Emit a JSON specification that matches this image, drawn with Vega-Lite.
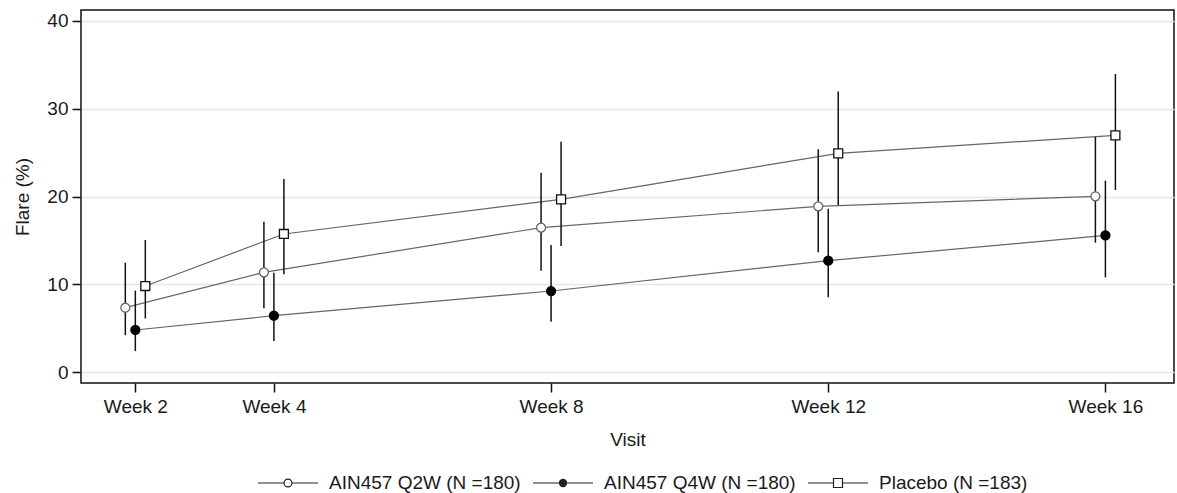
{
  "$schema": "https://vega.github.io/schema/vega-lite/v6.json",
  "width": 1093,
  "height": 373,
  "autosize": "none",
  "padding": {"left": 81, "top": 10, "right": 3, "bottom": 110},
  "background": "white",
  "config": {
    "view": {"stroke": "#111", "strokeWidth": 1.5},
    "font": "Liberation Sans",
    "axis": {
      "labelFont": "Liberation Sans",
      "titleFont": "Liberation Sans",
      "labelFontSize": 19,
      "titleFontSize": 19,
      "titleFontWeight": "normal",
      "labelColor": "#1a1a1a",
      "titleColor": "#1a1a1a",
      "tickColor": "#111",
      "tickWidth": 1.5,
      "tickSize": 9,
      "domain": false
    },
    "legend": {
      "labelFont": "Liberation Sans",
      "labelFontSize": 19,
      "labelColor": "#1a1a1a"
    }
  },
  "data": {
    "values": [
      {"group": "AIN457 Q2W (N =180)", "week": 2, "mean": 7.33, "lo": 4.2, "hi": 12.46},
      {"group": "AIN457 Q2W (N =180)", "week": 4, "mean": 11.36, "lo": 7.26, "hi": 17.13},
      {"group": "AIN457 Q2W (N =180)", "week": 8, "mean": 16.45, "lo": 11.55, "hi": 22.7},
      {"group": "AIN457 Q2W (N =180)", "week": 12, "mean": 18.88, "lo": 13.64, "hi": 25.38},
      {"group": "AIN457 Q2W (N =180)", "week": 16, "mean": 20.02, "lo": 14.74, "hi": 26.8},
      {"group": "AIN457 Q4W (N =180)", "week": 2, "mean": 4.79, "lo": 2.39, "hi": 9.27},
      {"group": "AIN457 Q4W (N =180)", "week": 4, "mean": 6.42, "lo": 3.53, "hi": 11.3},
      {"group": "AIN457 Q4W (N =180)", "week": 8, "mean": 9.23, "lo": 5.74, "hi": 14.47},
      {"group": "AIN457 Q4W (N =180)", "week": 12, "mean": 12.69, "lo": 8.51, "hi": 18.61},
      {"group": "AIN457 Q4W (N =180)", "week": 16, "mean": 15.57, "lo": 10.79, "hi": 21.8},
      {"group": "Placebo (N =183)", "week": 2, "mean": 9.8, "lo": 6.1, "hi": 15.04},
      {"group": "Placebo (N =183)", "week": 4, "mean": 15.73, "lo": 11.13, "hi": 22.0},
      {"group": "Placebo (N =183)", "week": 8, "mean": 19.68, "lo": 14.36, "hi": 26.25},
      {"group": "Placebo (N =183)", "week": 12, "mean": 24.92, "lo": 19.03, "hi": 31.95},
      {"group": "Placebo (N =183)", "week": 16, "mean": 26.96, "lo": 20.74, "hi": 33.96}
    ]
  },
  "encoding": {
    "x": {
      "field": "week",
      "type": "quantitative",
      "scale": {"domain": [1.216, 16.99], "nice": false, "zero": false},
      "axis": {
        "values": [2, 4, 8, 12, 16],
        "labelExpr": "'Week ' + datum.value",
        "grid": false,
        "labelPadding": 5,
        "title": "Visit",
        "titlePadding": 14
      }
    }
  },
  "resolve": {"scale": {"shape": "independent"}, "legend": {"shape": "independent"}},
  "layer": [
    {
      "mark": {"type": "line", "color": "#666", "strokeWidth": 1.2,
        "xOffset": {"expr": "datum.group == 'AIN457 Q2W (N =180)' ? -10 : (datum.group == 'Placebo (N =183)' ? 10 : 0)"}},
      "encoding": {
        "y": {
          "field": "mean",
          "type": "quantitative",
          "scale": {"domain": [-1.25, 41.25], "nice": false, "zero": false},
          "axis": {
            "values": [0, 10, 20, 30, 40],
            "grid": true,
            "gridColor": "#e6e6e6",
            "gridWidth": 1.5,
            "labelPadding": 4,
            "title": "Flare (%)",
            "titlePadding": 14
          }
        },
        "detail": {"field": "group", "type": "nominal"}
      }
    },
    {
      "mark": {"type": "rule", "color": "#111", "strokeWidth": 1.5,
        "xOffset": {"expr": "datum.group == 'AIN457 Q2W (N =180)' ? -10 : (datum.group == 'Placebo (N =183)' ? 10 : 0)"}},
      "encoding": {
        "y": {"field": "lo", "type": "quantitative"},
        "y2": {"field": "hi"}
      }
    },
    {
      "mark": {"type": "point", "filled": true, "size": 80, "strokeWidth": 1.3, "opacity": 1,
        "xOffset": {"expr": "datum.group == 'AIN457 Q2W (N =180)' ? -10 : (datum.group == 'Placebo (N =183)' ? 10 : 0)"}},
      "encoding": {
        "y": {"field": "mean", "type": "quantitative"},
        "shape": {
          "field": "group",
          "type": "nominal",
          "scale": {"range": ["circle", "circle", "square"]},
          "legend": null
        },
        "fill": {
          "field": "group",
          "type": "nominal",
          "scale": {"range": ["#ffffff", "#000000", "#ffffff"]},
          "legend": null
        },
        "stroke": {
          "field": "group",
          "type": "nominal",
          "scale": {"range": ["#666666", "#000000", "#111111"]},
          "legend": null
        }
      }
    },
    {
      "transform": [{"filter": "false"}],
      "mark": {"type": "point", "filled": false, "color": "#222", "strokeWidth": 1.2, "opacity": 1},
      "encoding": {
        "y": {"field": "mean", "type": "quantitative"},
        "shape": {
          "field": "group",
          "type": "nominal",
          "scale": {
            "domain": ["AIN457 Q2W (N =180)", "AIN457 Q4W (N =180)", "Placebo (N =183)"],
            "range": [
              "M-1,0H-0.13M0.13,0H1M0.13,0A0.13,0.13 0 1,1 -0.13,0A0.13,0.13 0 1,1 0.13,0Z",
              "M-1,0H1M0.12,0A0.12,0.12 0 1,1 -0.12,0A0.12,0.12 0 1,1 0.12,0ZM0.08,0A0.08,0.08 0 1,1 -0.08,0A0.08,0.08 0 1,1 0.08,0ZM0.04,0A0.04,0.04 0 1,1 -0.04,0A0.04,0.04 0 1,1 0.04,0Z",
              "M-1,0H-0.15M0.15,0H1M-0.15,-0.15H0.15V0.15H-0.15Z"
            ]
          },
          "legend": {
            "title": null,
            "orient": "none",
            "legendX": 176,
            "legendY": 442,
            "direction": "horizontal",
            "columns": 3,
            "columnPadding": 9,
            "labelOffset": 10,
            "labelLimit": 0,
            "symbolSize": 3600,
            "symbolStrokeWidth": 1.2,
            "symbolStrokeColor": "#222",
            "symbolOpacity": 1,
            "padding": 0
          }
        }
      }
    }
  ]
}
